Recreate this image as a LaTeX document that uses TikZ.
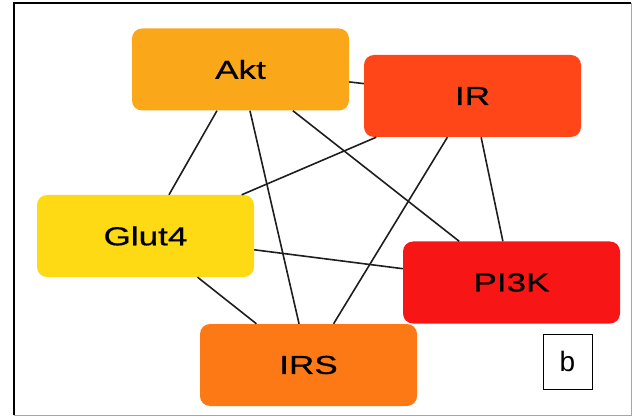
\documentclass[tikz,border=0pt]{standalone}
\usepackage{fontspec}
\setmainfont{Liberation Sans}
\newfontfamily\protfont[FakeStretch=1.35,FakeBold=0.6]{Liberation Sans}
\usepackage{xcolor}
\usepackage{tikz}
\usetikzlibrary{positioning}
\definecolor{aktc}{HTML}{FBA71A}
\definecolor{irc}{HTML}{FE4618}
\definecolor{glutc}{HTML}{FDDA14}
\definecolor{pikc}{HTML}{F81516}
\definecolor{irsc}{HTML}{FD7916}
\definecolor{edge}{HTML}{1E1E1E}
\tikzset{
  prot/.style={rectangle, rounded corners=10pt, minimum width=217pt, minimum height=82pt, inner sep=0pt, font=\protfont\fontsize{26}{30}\selectfont},
  link/.style={draw=edge, line width=1.6pt},
  tag/.style={rectangle, draw=black, line width=1pt, minimum width=49pt, minimum height=55pt, inner sep=0pt, font=\fontsize{28}{30}\selectfont},
}

\begin{document}
\begin{tikzpicture}[x=1pt,y=-1pt]
\useasboundingbox (0,0) rectangle (638,417);
% frame
\draw[gray!70, line width=1pt] (631,3) -- (631,415) -- (14,415);
\draw[black, line width=1.6pt] (14,415) -- (14,3) -- (631,3);
% proteins
\node[prot, fill=aktc] (akt) at (240.5,69.5) {Akt};
\node[prot, fill=irc] (ir) at (472.5,96) {IR};
\node[prot, fill=glutc] (glut) at (145.5,236) {Glut4};
\node[prot, fill=pikc] (pik) at (511.5,282.5) {PI3K};
\node[prot, fill=irsc] (irs) at (308.5,365) {IRS};
% interactions
\draw[link] (akt) -- (ir);
\draw[link] (akt) -- (glut);
\draw[link] (akt) -- (irs);
\draw[link] (akt) -- (pik);
\draw[link] (ir) -- (glut);
\draw[link] (ir) -- (irs);
\draw[link] (ir) -- (pik);
\draw[link] (glut) -- (pik);
\draw[link] (glut) -- (irs);
% panel label
\node[tag] (lbl) at (567.5,361.5) {b};
\end{tikzpicture}
\end{document}
